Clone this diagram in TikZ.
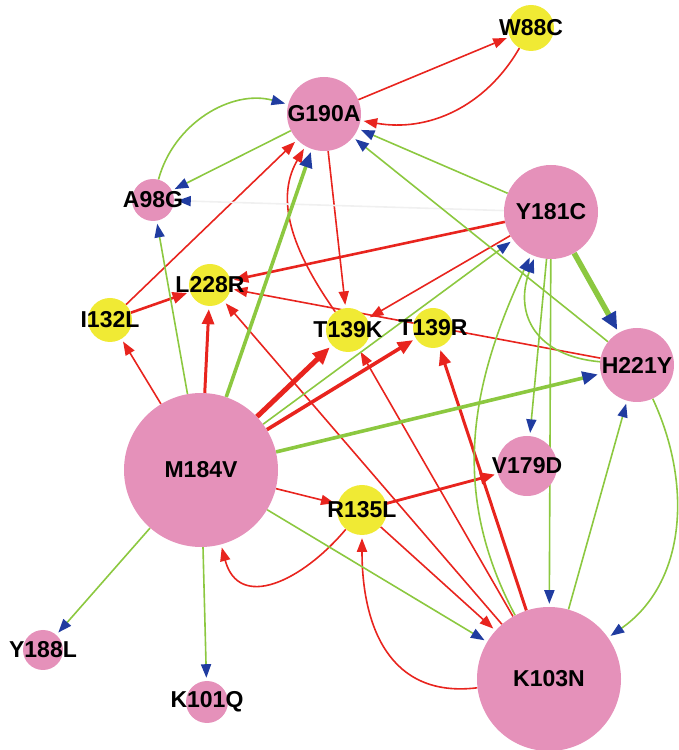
\documentclass[tikz,border=0pt]{standalone}
\usepackage{fontspec}
\setmainfont{Liberation Sans}
\usetikzlibrary{arrows.meta,backgrounds}
\definecolor{nodepink}{RGB}{229,145,186}
\definecolor{nodeyellow}{RGB}{240,234,52}
\definecolor{edgered}{RGB}{232,36,30}
\definecolor{edgegreen}{RGB}{140,200,64}
\definecolor{tipblue}{RGB}{32,60,160}
\tikzset{
  every label/.style={font=\fontsize{23}{23}\selectfont\bfseries,inner sep=0pt},
  mut/.style={circle,inner sep=0pt},
  pinkmut/.style={mut,fill=nodepink},
  yellowmut/.style={mut,fill=nodeyellow},
  rededge/.style={draw=edgered,line width=1.6pt,-{Triangle[length=12pt 1,width=8pt 1.3]},shorten >=3pt},
  grnedge/.style={draw=edgegreen,line width=1.6pt,-{Triangle[length=12pt 1,width=8pt 1.3,color=tipblue]},shorten >=3pt}
}
\begin{document}
\begin{tikzpicture}[x=1pt,y=1pt]
      \useasboundingbox (0,0) rectangle (678,750);
      \node [yellowmut,minimum size=46pt,label=center:W88C] (w88c) at (531,722) {};
      \node [pinkmut,minimum size=74pt,label=center:G190A] (g190a) at (324,636) {};
      \node [pinkmut,minimum size=42pt,label=center:A98G] (a98g) at (153,550) {};
      \node [pinkmut,minimum size=94pt,label=center:Y181C] (y181c) at (551,538) {};
      \node [yellowmut,minimum size=42pt,label=center:L228R] (l228r) at (210,465) {};
      \node [yellowmut,minimum size=44pt,label=center:I132L] (i132l) at (110,430) {};
      \node [yellowmut,minimum size=44pt,label=center:T139K] (t139k) at (348,420) {};
      \node [yellowmut,minimum size=40pt,label=center:T139R] (t139r) at (433,422) {};
      \node [pinkmut,minimum size=74pt,label=center:H221Y] (h221y) at (637,385) {};
      \node [pinkmut,minimum size=60pt,label=center:V179D] (v179d) at (527,284) {};
      \node [pinkmut,minimum size=154pt,label=center:M184V] (m184v) at (201,280) {};
      \node [yellowmut,minimum size=50pt,label=center:R135L] (r135l) at (362,240) {};
      \node [pinkmut,minimum size=144pt,label=center:K103N] (k103n) at (549,71) {};
      \node [pinkmut,minimum size=40pt,label=center:Y188L] (y188l) at (43,100) {};
      \node [pinkmut,minimum size=42pt,label=center:K101Q] (k101q) at (207,48) {};
      \begin{scope}[on background layer]
      \draw [rededge] (g190a) -- (w88c);
      \draw [rededge] (w88c) to[out=-120,in=-10] (g190a);
      \draw [rededge] (i132l) -- (g190a);
      \draw [rededge] (t139k) to[out=125,in=-120] (g190a);
      \draw [rededge] (m184v) -- (i132l);
      \draw [rededge] (h221y) -- (l228r);
      \draw [rededge] (k103n) -- (l228r);
      \draw [rededge] (g190a) -- (t139k);
      \draw [rededge] (y181c) -- (t139k);
      \draw [rededge] (k103n) -- (t139k);
      \draw [rededge] (m184v) -- (r135l);
      \draw [rededge] (r135l) -- (k103n);
      \draw [rededge] (r135l) to[out=230,in=-75,looseness=1.4] (m184v);
      \draw [rededge] (k103n) to[out=187,in=-90,looseness=1.2] (r135l);
      \draw [rededge,line width=2.6pt] (i132l) -- (l228r);
      \draw [rededge,line width=3pt] (m184v) -- (l228r);
      \draw [rededge,line width=2.6pt] (y181c) -- (l228r);
      \draw [rededge,line width=5pt] (m184v) -- (t139k);
      \draw [rededge,line width=3.6pt] (m184v) -- (t139r);
      \draw [rededge,line width=3pt] (k103n) -- (t139r);
      \draw [rededge,line width=2.8pt] (r135l) -- (v179d);
      \draw [grnedge] (a98g) to[out=75,in=165] (g190a);
      \draw [grnedge] (g190a) -- (a98g);
      \draw [grnedge,draw=black!6] (y181c) -- (a98g);
      \draw [grnedge] (m184v) -- (a98g);
      \draw [grnedge,line width=3.6pt] (m184v) -- (g190a);
      \draw [grnedge] (y181c) -- (g190a);
      \draw [grnedge] (h221y) -- (g190a);
      \draw [grnedge,line width=5.5pt] (y181c) -- (h221y);
      \draw [grnedge] (h221y) to[out=175,in=-110,looseness=1.3] (y181c);
      \draw [grnedge] (m184v) -- (y181c);
      \draw [grnedge] (k103n) to[out=118,in=-115] (y181c);
      \draw [grnedge] (y181c) -- (v179d);
      \draw [grnedge] (y181c) -- (k103n);
      \draw [grnedge,line width=3.6pt] (m184v) -- (h221y);
      \draw [grnedge] (k103n) -- (h221y);
      \draw [grnedge] (h221y) to[out=-65,in=35] (k103n);
      \draw [grnedge] (m184v) -- (k103n);
      \draw [grnedge] (m184v) -- (y188l);
      \draw [grnedge] (m184v) -- (k101q);
      \end{scope}
\end{tikzpicture}
\end{document}
